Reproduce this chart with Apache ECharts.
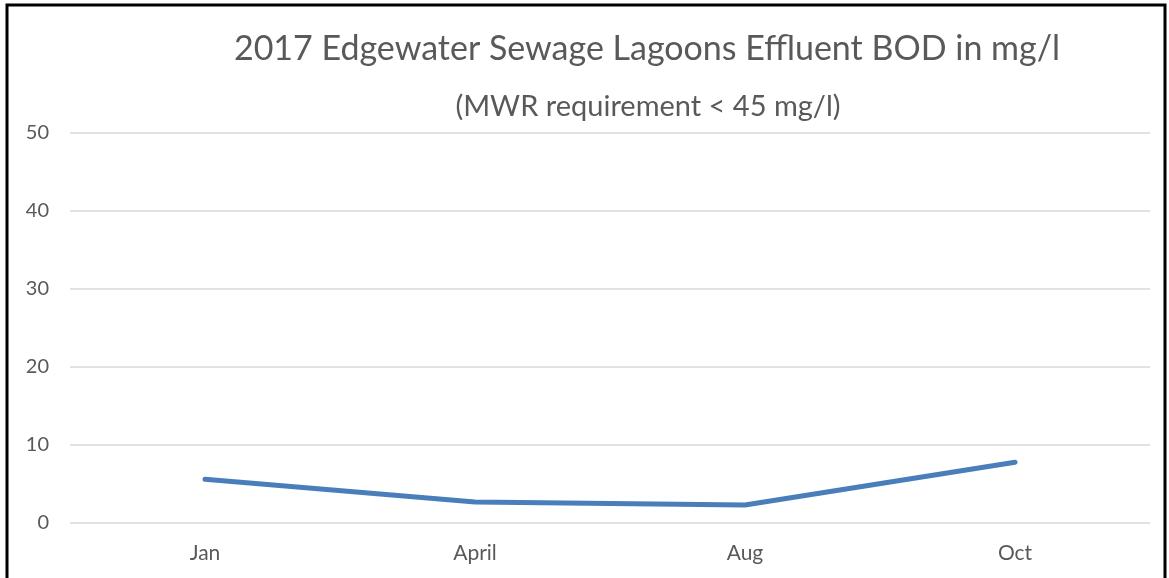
<!DOCTYPE html>
<html><head><meta charset="utf-8">
<script src="https://cdn.jsdelivr.net/npm/echarts@6/dist/echarts.min.js"></script>
<style>html,body{margin:0;padding:0;background:#fff}#c{width:1169px;height:578px}</style>
</head><body><div id="c"></div>
<script>
var categories = ['Jan', 'April', 'Aug', 'Oct'];
var bodValues = [5.6, 2.7, 2.3, 7.8];
var yTicks = [0, 10, 20, 30, 40, 50];
var titleText = '2017 Edgewater Sewage Lagoons Effluent BOD in mg/l';
var subtitleText = '(MWR requirement < 45 mg/l)';

var chart = echarts.init(document.getElementById('c'), null, {renderer: 'canvas'});
var font = 'Lato, "Open Sans", sans-serif';
chart.setOption({
  animation: false,
  backgroundColor: '#fff',
  title: [
    {text: titleText, left: 642, top: 27, textAlign: 'center',
     textStyle: {fontFamily: font, fontSize: 34, fontWeight: 'normal', color: '#595959'}},
    {text: subtitleText, left: 643, top: 87, textAlign: 'center',
     textStyle: {fontFamily: font, fontSize: 29, fontWeight: 'normal', color: '#595959'}}
  ],
  graphic: [{type: 'rect', shape: {x: 7, y: 5, width: 1158, height: 600},
    style: {fill: 'none', stroke: '#000', lineWidth: 3}, silent: true}],
  grid: {left: 70, right: 19, top: 133, bottom: 55},
  xAxis: {type: 'category', data: categories, boundaryGap: true,
    axisLine: {show: false}, axisTick: {show: false},
    axisLabel: {fontFamily: font, fontSize: 21, color: '#595959', margin: 20}},
  yAxis: {type: 'value', min: yTicks[0], max: yTicks[yTicks.length - 1], interval: 10,
    axisLine: {show: false}, axisTick: {show: false},
    axisLabel: {fontFamily: font, fontSize: 20, color: '#595959', margin: 21}},
  series: [{type: 'line', data: bodValues, showSymbol: false, symbol: 'none',
    lineStyle: {color: '#4a7ebb', width: 5, cap: 'round', join: 'round'}}]
});
chart.setOption({yAxis: {splitLine: {lineStyle: {color: '#d9d9d9', width: 1.5}}}});
</script></body></html>
